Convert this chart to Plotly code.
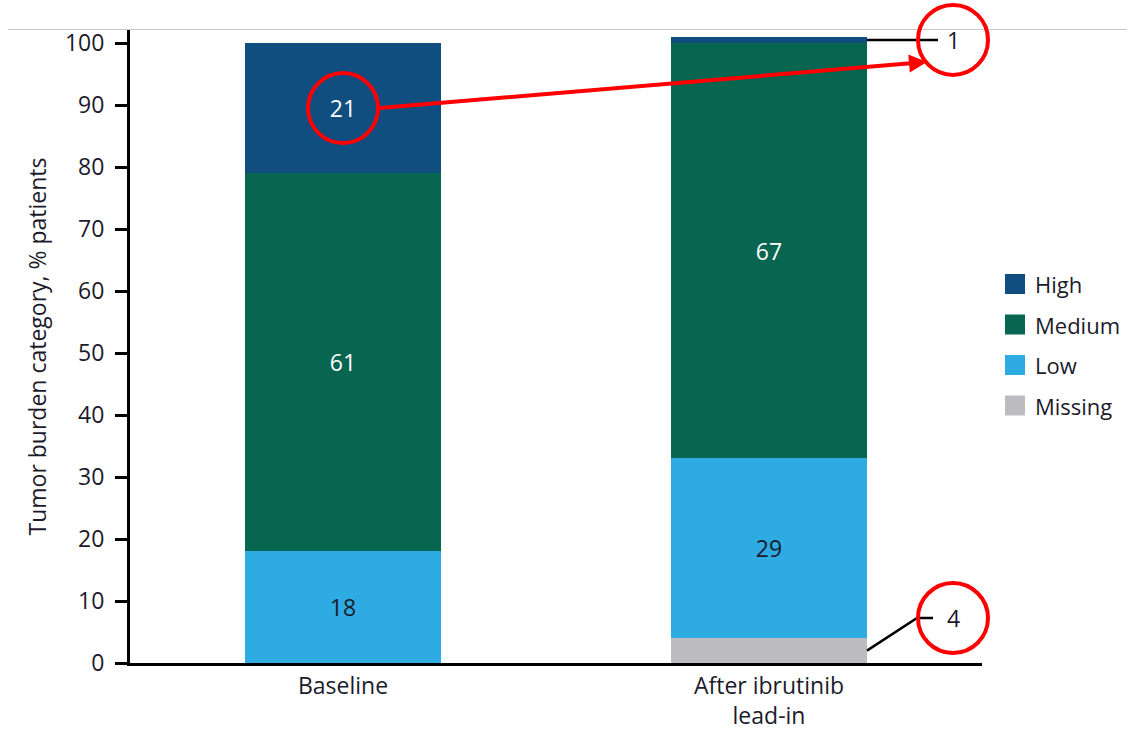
import plotly.graph_objects as go

# Stacked shares of patients by tumor burden category
groups = ["Baseline", "After ibrutinib<br>lead-in"]
series_names = ["Missing", "Low", "Medium", "High"]
missing = [0, 4]
low = [18, 29]
medium = [61, 67]
high = [21, 1]
y_ticks = [0, 10, 20, 30, 40, 50, 60, 70, 80, 90, 100]

colors = {"High": "#0f4e7e", "Medium": "#076550", "Low": "#2eabe2", "Missing": "#bcbbc0"}
text_colors = {"High": "white", "Medium": "white", "Low": "#1b1b2b", "Missing": "#1b1b2b"}
FONT = "'Open Sans', Lato, sans-serif"
INK = "#1b1b2b"
RED = "#ff0000"

# canvas / plot-area geometry (pixels)
W, H = 1127, 732
L, R, T, B = 130, 145, 30, 69
PW, PH = W - L - R, H - T - B
YMAX = 102.1
BAR_W = 0.46


def px(xp):
    return (xp - L) / PW


def py(yp):
    return (H - B - yp) / PH


def yv(v):
    return v / YMAX


def xc(i, off=0.0):
    return (i + 0.5 + off) / len(groups)


def to_px_x(xpaper):
    return L + xpaper * PW


def to_px_y(ypaper):
    return H - B - ypaper * PH


values = {"Missing": missing, "Low": low, "Medium": medium, "High": high}

fig = go.Figure()
for name in series_names:
    vals = values[name]
    fig.add_trace(go.Bar(
        name=name,
        x=groups,
        y=vals,
        width=BAR_W,
        marker=dict(color=colors[name], line=dict(width=0)),
        text=[str(v) if v >= 10 else "" for v in vals],
        textposition="inside",
        insidetextanchor="middle",
        textangle=0,
        constraintext="none",
        textfont=dict(family=FONT, size=23, color=text_colors[name]),
        hoverinfo="skip",
    ))

shapes = []
annotations = []

# thin rule along the top edge
shapes.append(dict(type="line", xref="paper", yref="paper",
                   x0=px(8), x1=px(W), y0=py(29.5), y1=py(29.5),
                   line=dict(color="#c8c8c8", width=1)))

CIRCLE_R = 35


def circle(xp, yp):
    shapes.append(dict(type="circle", xref="paper", yref="paper",
                       xsizemode="pixel", ysizemode="pixel",
                       xanchor=xp, yanchor=yp,
                       x0=-CIRCLE_R, x1=CIRCLE_R, y0=-CIRCLE_R, y1=CIRCLE_R,
                       line=dict(color=RED, width=4)))


def label(xp, yp, txt):
    annotations.append(dict(xref="paper", yref="paper", x=xp, y=yp, text=txt,
                            showarrow=False, xanchor="center", yanchor="middle",
                            font=dict(family=FONT, size=23, color=INK)))


# highlight ring on the baseline "High" segment
hi0_y = yv(missing[0] + low[0] + medium[0] + high[0] / 2)
circle(xc(0), hi0_y)

# callout for the small "High" segment after lead-in
call_x = px(953)
hi1_y = yv(missing[1] + low[1] + medium[1] + high[1] / 2)
shapes.append(dict(type="line", xref="paper", yref="paper",
                   x0=xc(1, BAR_W / 2), x1=px(938), y0=hi1_y, y1=hi1_y,
                   line=dict(color="black", width=2.5)))
circle(call_x, hi1_y)
label(call_x, hi1_y, str(high[1]))

# callout for the "Missing" segment after lead-in
miss_y = yv(missing[1] / 2)
call4_y = py(618)
shapes.append(dict(type="path", xref="paper", yref="paper",
                   path=(f"M {xc(1, BAR_W / 2)},{miss_y} L {px(917)},{call4_y} "
                         f"L {px(933)},{call4_y}"),
                   line=dict(color="black", width=2.5)))
circle(call_x, call4_y)
label(call_x, call4_y, str(missing[1]))

# red arrow linking the two "High" values
tail_x = to_px_x(xc(0)) + CIRCLE_R
tail_y = to_px_y(hi0_y)
head_x = to_px_x(call_x) - 26
head_y = to_px_y(hi1_y) + 22
annotations.append(dict(xref="paper", yref="paper", x=px(head_x), y=py(head_y),
                        axref="pixel", ayref="pixel",
                        ax=tail_x - head_x, ay=tail_y - head_y,
                        text="", showarrow=True, arrowhead=2, arrowsize=0.9,
                        arrowwidth=4, arrowcolor=RED, standoff=0, startstandoff=0))

# legend drawn as swatches + labels, top entry first
leg_y0 = 284
for k, name in enumerate(reversed(series_names)):
    yc = leg_y0 + k * 40.5
    shapes.append(dict(type="rect", xref="paper", yref="paper",
                       x0=px(1005), x1=px(1025), y0=py(yc + 10), y1=py(yc - 10),
                       fillcolor=colors[name], line=dict(width=0)))
    annotations.append(dict(xref="paper", yref="paper", x=px(1033), y=py(yc),
                            text=name, showarrow=False, xanchor="left", yanchor="middle",
                            font=dict(family=FONT, size=22, color=INK)))

fig.update_layout(
    width=W, height=H,
    margin=dict(l=L, r=R, t=T, b=B, pad=0),
    barmode="stack",
    showlegend=False,
    plot_bgcolor="white",
    paper_bgcolor="white",
    font=dict(family=FONT, size=23, color=INK),
    shapes=shapes,
    annotations=annotations,
    xaxis=dict(
        type="category",
        range=[-0.5, 1.5],
        automargin=False,
        showline=True, linecolor="black", linewidth=3,
        ticks="", showgrid=False, zeroline=False,
        ticklabelstandoff=0,
        tickfont=dict(family=FONT, size=23, color=INK),
    ),
    yaxis=dict(
        range=[0, YMAX],
        automargin=False,
        tickvals=y_ticks,
        showline=True, linecolor="black", linewidth=3,
        ticks="outside", ticklen=12, tickwidth=3, tickcolor="black",
        ticklabelstandoff=6,
        showgrid=False, zeroline=False,
        tickfont=dict(family=FONT, size=23, color=INK),
        title=dict(text="Tumor burden category, % patients", standoff=12,
                   font=dict(family=FONT, size=23, color=INK)),
    ),
)

fig.write_html("out.html")
